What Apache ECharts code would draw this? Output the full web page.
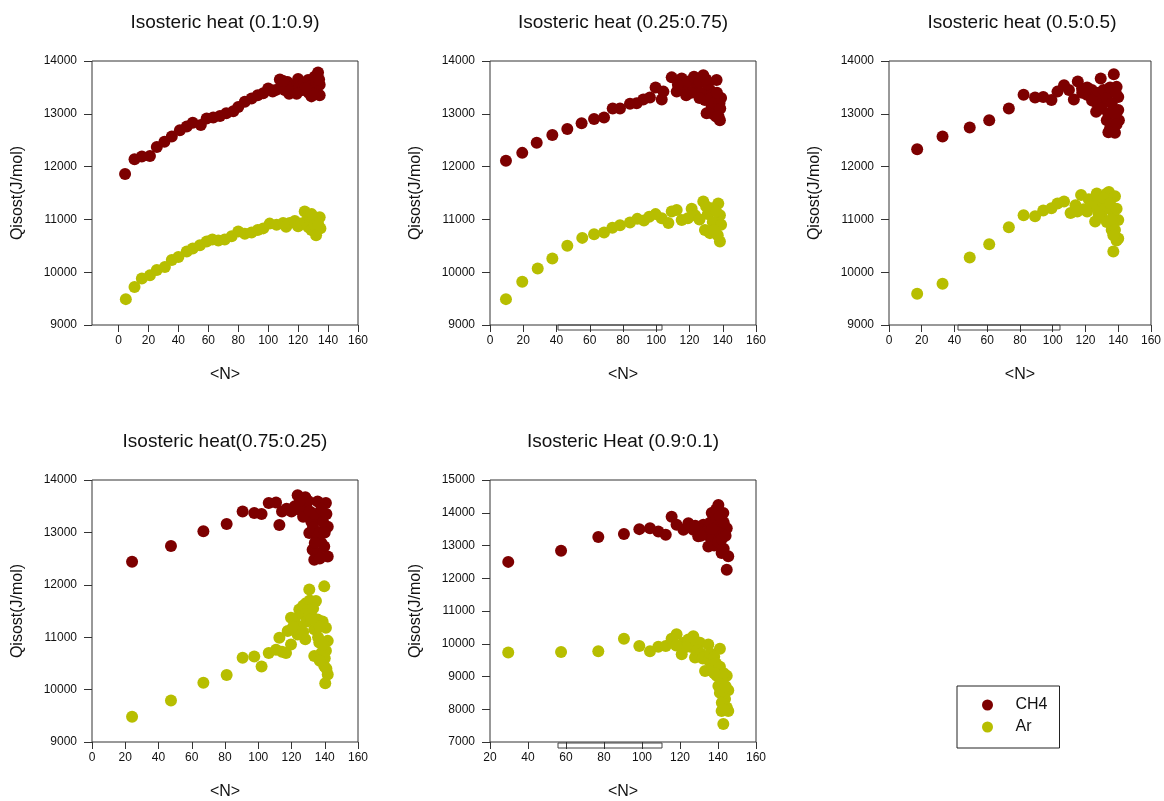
<!DOCTYPE html>
<html>
<head>
<meta charset="utf-8">
<title>Isosteric heat</title>
<script src="https://cdn.jsdelivr.net/npm/echarts@6/dist/echarts.min.js"></script>
<style>
  html, body { margin: 0; padding: 0; background: #fff; }
  #chart { width: 1164px; height: 801px; }
</style>
</head>
<body>
<div id="chart"></div>
<script>
  // panel titles
  const titles = [
    'Isosteric heat (0.1:0.9)',
    'Isosteric heat (0.25:0.75)',
    'Isosteric heat (0.5:0.5)',
    'Isosteric heat(0.75:0.25)',
    'Isosteric Heat (0.9:0.1)'
  ]

  // tick labels
  const xTicks = [0, 20, 40, 60, 80, 100, 120, 140, 160]
  const xTicks5 = [20, 40, 60, 80, 100, 120, 140, 160]
  const yTicks = [9000, 10000, 11000, 12000, 13000, 14000]
  const yTicks5 = [7000, 8000, 9000, 10000, 11000, 12000, 13000, 14000, 15000]

  // (0.1:0.9)
  const ch4_a = [
    [4.4, 11860], [10.7, 12140], [15.6, 12190], [21, 12200], [25.6, 12370], [30.7, 12470],
    [35.6, 12570], [41, 12690], [45.6, 12760], [49.6, 12830], [55, 12790], [58.9, 12910],
    [63.3, 12930], [67.8, 12960], [72, 13010], [76.7, 13050], [80, 13130], [84.4, 13230],
    [88.9, 13290], [93, 13350], [96.7, 13390], [100, 13480], [103, 13420], [105, 13450],
    [107.8, 13650], [109, 13520], [111, 13450], [113, 13600], [114, 13380], [116.7, 13510],
    [118, 13420], [120, 13660], [121, 13500], [123, 13450], [124, 13580], [126.7, 13640],
    [127, 13400], [128.9, 13330], [129, 13520], [131, 13700], [131.5, 13450], [132, 13600],
    [133.3, 13780], [133, 13380], [134.4, 13350], [134.4, 13550], [134, 13650], [130, 13380],
    [125, 13480], [119, 13380], [112, 13530], [110, 13620]
  ]
  const ar_a = [
    [4.9, 9490], [10.7, 9720], [15.6, 9880], [21, 9940], [25.6, 10040], [31, 10100],
    [35.6, 10230], [40, 10290], [45.6, 10390], [49.6, 10450], [54.4, 10510], [58.9, 10580],
    [62.7, 10620], [66.7, 10600], [71, 10620], [75.6, 10680], [80, 10770], [84.4, 10730],
    [88.9, 10750], [93, 10800], [96.7, 10830], [101, 10920], [105.6, 10900], [110, 10930],
    [112, 10860], [114.4, 10930], [117.8, 10970], [120, 10870], [122, 10920], [124.4, 11150],
    [125, 10950], [126.7, 11080], [127, 10850], [128.9, 10800], [130, 11000], [131, 10900],
    [132, 10700], [132.5, 11000], [134.4, 11040], [134.9, 10830], [133.5, 10900], [129, 11100]
  ]

  // (0.25:0.75)
  const ch4_b = [
    [9.6, 12110], [19.4, 12260], [28.1, 12450], [37.5, 12600], [46.5, 12710], [55.1, 12820],
    [62.6, 12900], [68.6, 12930], [73.8, 13100], [78.2, 13100], [84.2, 13190], [88.2, 13200],
    [92.2, 13270], [96.2, 13310], [99.6, 13500], [103.3, 13270], [104.3, 13420], [109.3, 13690],
    [112.3, 13420], [115.3, 13670], [117.3, 13480], [119.3, 13610], [122.7, 13700], [124.3, 13510],
    [128.3, 13730], [129.3, 13260], [130.3, 13010], [132.3, 13450], [133.3, 13130], [136.3, 13640],
    [137.3, 13320], [138.3, 12880], [137.3, 13070], [126, 13600], [127, 13400], [131, 13560],
    [133, 13300], [134, 13000], [135, 13200], [136, 12950], [138, 13200], [138.5, 13100],
    [137.5, 12950], [121, 13400], [118, 13350], [113, 13550], [126, 13300], [130, 13650],
    [139, 13300], [136.5, 13400]
  ]
  const ar_b = [
    [9.6, 9490], [19.4, 9820], [28.7, 10070], [37.5, 10260], [46.5, 10500], [55.5, 10650],
    [62.6, 10720], [68.6, 10750], [73.6, 10840], [78.2, 10890], [84.2, 10940], [88.6, 11010],
    [92.6, 10980], [95.8, 11050], [99.6, 11100], [103.3, 11020], [107.3, 10930], [109.3, 11150],
    [112.3, 11180], [115.3, 10990], [119, 11020], [121.3, 11200], [123.3, 11080], [128.3, 11340],
    [129.3, 10800], [132.3, 10740], [133.5, 11210], [137.3, 11300], [138.3, 11080], [138.3, 10580],
    [135.3, 10860], [126, 11000], [131, 11100], [134, 10950], [136, 11150], [137, 10700],
    [139, 10900], [130, 11250], [135, 10800]
  ]

  // (0.5:0.5)
  const ch4_c = [
    [17.2, 12330], [32.7, 12570], [49.3, 12740], [61.2, 12880], [73.2, 13100], [82.2, 13360],
    [89.2, 13310], [94.2, 13320], [99.2, 13260], [102.9, 13420], [106.9, 13540], [109.9, 13450],
    [112.9, 13270], [115.3, 13610], [117.9, 13480], [120.9, 13360], [123.9, 13450], [126.5, 13040],
    [129.3, 13670], [132, 13260], [133, 12880], [135, 12720], [137.3, 13750], [138, 12640],
    [140, 13070], [140, 13320], [139, 13510], [140.4, 12880], [125, 13300], [127, 13200],
    [128, 13400], [130, 13100], [131, 13450], [133, 13300], [134, 13000], [135, 13500],
    [136, 12800], [136, 13200], [137, 12700], [138, 13000], [138.5, 13400], [139, 12800],
    [134, 12650], [124, 13250], [118, 13400], [121, 13500]
  ]
  const ar_c = [
    [17.2, 9590], [32.7, 9780], [49.3, 10280], [61.2, 10530], [73.2, 10850], [82.2, 11080],
    [89.2, 11060], [94.2, 11170], [99.2, 11210], [102.9, 11300], [106.9, 11340], [110.9, 11120],
    [113.9, 11270], [117.3, 11460], [118.9, 11190], [122, 11380], [125.9, 10960], [126.9, 11490],
    [130, 11240], [133, 11490], [134.3, 11520], [137, 11120], [138, 11440], [140, 10990],
    [140, 10640], [137, 10390], [136, 10800], [124, 11250], [128, 11400], [130, 11050],
    [131, 11400], [132, 11200], [133, 10950], [135, 11300], [136, 11000], [138, 10800],
    [139, 10600], [139, 11200], [137, 10700], [128, 11100], [121, 11150], [115, 11150]
  ]

  // (0.75:0.25)
  const ch4_d = [
    [24.1, 12440], [47.5, 12740], [67, 13020], [81, 13160], [90.6, 13400], [97.6, 13370],
    [102, 13350], [106.3, 13560], [110.7, 13570], [112.7, 13140], [114.3, 13400], [118.7, 13430],
    [123.7, 13710], [124.7, 13430], [128.3, 13670], [129.7, 13300], [130.7, 12990], [133.7, 12480],
    [135.7, 13590], [132.7, 12670], [136.7, 13240], [139.7, 12730], [140.7, 13560], [141.8, 13110],
    [141.8, 12540], [120, 13400], [122, 13500], [126, 13450], [127, 13300], [128, 13500],
    [130, 13600], [131, 13400], [132, 13200], [133, 13100], [134, 13350], [135, 12900],
    [136, 12600], [137, 13000], [138, 13450], [138, 12800], [139, 13200], [140, 13000],
    [141, 13350], [137, 12500], [134, 12800], [117, 13450], [125, 13600]
  ]
  const ar_d = [
    [24.1, 9480], [47.5, 9790], [67, 10130], [81, 10280], [90.6, 10610], [97.6, 10630],
    [102, 10440], [106.3, 10700], [110.7, 10760], [112.7, 10990], [114.3, 10720], [116.7, 10700],
    [117.7, 11120], [119.7, 10860], [119.7, 11370], [123.7, 11050], [124.7, 11530], [128.3, 10960],
    [128.7, 11650], [130.7, 11910], [131.7, 11460], [133.7, 11150], [134.7, 11690], [135.7, 11340],
    [133.7, 10640], [136.7, 10900], [139.7, 11970], [138.7, 11300], [140.7, 11180], [141.8, 10930],
    [140.7, 10740], [139.7, 10450], [141.8, 10290], [140.3, 10120], [122, 11350], [125, 11200],
    [126, 11450], [127, 11600], [129, 11300], [130, 11500], [131, 11700], [132, 11350],
    [133, 11550], [136, 11000], [137, 11200], [138, 10700], [139, 10850], [140, 10600],
    [141, 10400], [137, 10550], [121, 11200], [127, 11100]
  ]

  // (0.9:0.1)
  const ch4_e = [
    [29.6, 12500], [57.4, 12840], [77, 13260], [90.5, 13350], [98.6, 13500], [104.2, 13530],
    [108.6, 13430], [112.5, 13330], [115.6, 13880], [118.2, 13630], [121.8, 13480], [124.4, 13680],
    [127, 13480], [129.6, 13280], [132.3, 13630], [134.9, 12970], [136.7, 13990], [140.2, 14240],
    [142.8, 13990], [144.6, 13530], [145.4, 12670], [144.6, 12260], [141.9, 12770], [126, 13550],
    [130, 13500], [133, 13400], [135, 13300], [136, 13700], [137, 13200], [138, 13500],
    [138, 13000], [139, 13800], [140, 13600], [140, 13100], [141, 13400], [142, 13200],
    [143, 13700], [143, 12900], [144, 13300], [139, 14100], [141, 13900], [137, 13500],
    [131, 13300], [128, 13600]
  ]
  const ar_e = [
    [29.6, 9730], [57.4, 9750], [77, 9770], [90.5, 10150], [98.6, 9930], [104.2, 9770],
    [108.6, 9910], [112.5, 9930], [115.6, 10150], [118.2, 10290], [120.9, 9680], [121.8, 10030],
    [124.4, 10130], [127, 10230], [127.9, 9580], [130.5, 10030], [133.2, 9170], [134.9, 9980],
    [136.7, 9370], [141, 9850], [139.3, 9020], [140.2, 8710], [144.6, 9020], [145.4, 8580],
    [143.7, 8310], [144.6, 8050], [141.9, 7950], [145.4, 7950], [142.8, 7550], [126, 9900],
    [129, 9800], [131, 9700], [132, 9550], [133, 9600], [135, 9500], [136, 9700], [137, 9250],
    [138, 9600], [139, 9400], [140, 9200], [141, 9300], [142, 8900], [143, 9100], [141, 8500],
    [142, 8200], [144, 8700], [143, 8000], [138, 9100], [123, 9900], [118, 9950]
  ]

  const colors = ['#7d0000', '#b7be00']
  const font = 'Liberation Sans, Arial, sans-serif'

  const panels = [
    { box: [92, 61, 266, 264], x: [-17.7, 160], xt: xTicks, y: [9000, 14000], ch4: ch4_a, ar: ar_a },
    { box: [490, 61, 266, 264], x: [0, 160], xt: xTicks, y: [9000, 14000], ch4: ch4_b, ar: ar_b },
    { box: [889, 61, 266, 264], x: [0, 160], xt: xTicks, y: [9000, 14000], ch4: ch4_c, ar: ar_c },
    { box: [92, 480, 266, 263], x: [0, 160], xt: xTicks, y: [9000, 14000], ch4: ch4_d, ar: ar_d },
    { box: [490, 480, 266, 263], x: [20, 160], xt: xTicks5, y: [7000, 15000], ch4: ch4_e, ar: ar_e }
  ]

  const myChart = echarts.init(document.getElementById('chart'))

  let option = {
    backgroundColor: '#fff',
    animation: false,
    title: panels.map((p, i) => ({
      text: titles[i],
      left: p.box[0] + p.box[2] / 2,
      top: p.box[1] - 48,
      textAlign: 'center',
      padding: 0,
      textStyle: { fontFamily: font, fontSize: 19, fontWeight: 'normal', color: '#111' }
    })),
    legend: {
      data: ['CH4', 'Ar'],
      orient: 'vertical',
      left: 957,
      top: 686,
      icon: 'circle',
      itemWidth: 46,
      itemHeight: 11,
      itemGap: 6,
      padding: [11, 12, 13, 25],
      borderColor: '#222',
      borderWidth: 1,
      selectedMode: false,
      textStyle: { fontFamily: font, fontSize: 16, lineHeight: 16, color: '#111' }
    },
    grid: panels.map(p => ({
      left: p.box[0],
      top: p.box[1],
      width: p.box[2],
      height: p.box[3],
      show: true,
      borderColor: '#333',
      borderWidth: 1
    })),
    xAxis: panels.map((p, i) => ({
      type: 'value',
      gridIndex: i,
      min: p.x[0],
      max: p.x[1],
      name: '<N>',
      nameLocation: 'middle',
      nameGap: 42,
      nameTextStyle: { fontFamily: font, fontSize: 16, color: '#111' },
      splitLine: { show: false },
      axisLine: { show: false, onZero: false },
      axisTick: { show: true, length: 7, customValues: p.xt, lineStyle: { color: '#333' } },
      axisLabel: { customValues: p.xt, margin: 10, fontFamily: font, fontSize: 12, color: '#111', formatter: v => String(v) }
    })),
    yAxis: panels.map((p, i) => ({
      type: 'value',
      gridIndex: i,
      min: p.y[0],
      max: p.y[1],
      interval: 1000,
      name: 'Qisost(J/mol)',
      nameLocation: 'middle',
      nameGap: 66,
      nameTextStyle: { fontFamily: font, fontSize: 16, color: '#111' },
      splitLine: { show: false },
      axisLine: { show: false, onZero: false },
      axisTick: { show: true, length: 8, lineStyle: { color: '#333' } },
      axisLabel: { margin: 15, fontFamily: font, fontSize: 12, color: '#111', formatter: v => String(v) }
    })),
    series: [],
    // stray empty boxes under some x axes
    graphic: [
      { type: 'rect', shape: { x: 558, y: 325, width: 104, height: 5 }, style: { fill: 'none', stroke: '#444', lineWidth: 1 } },
      { type: 'rect', shape: { x: 958, y: 325, width: 102, height: 5 }, style: { fill: 'none', stroke: '#444', lineWidth: 1 } },
      { type: 'rect', shape: { x: 558, y: 743, width: 104, height: 5 }, style: { fill: 'none', stroke: '#444', lineWidth: 1 } }
    ]
  }

  panels.forEach((p, i) => {
    option.series.push({
      name: 'CH4',
      type: 'scatter',
      xAxisIndex: i,
      yAxisIndex: i,
      symbolSize: 12,
      itemStyle: { color: colors[0], opacity: 1 },
      data: p.ch4
    }, {
      name: 'Ar',
      type: 'scatter',
      xAxisIndex: i,
      yAxisIndex: i,
      symbolSize: 12,
      itemStyle: { color: colors[1], opacity: 1 },
      data: p.ar
    })
  })

  myChart.setOption(option)
</script>
</body>
</html>
